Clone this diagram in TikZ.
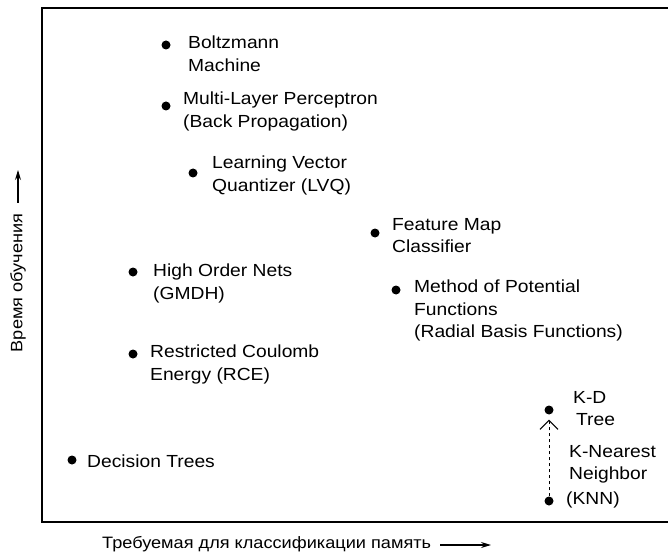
\documentclass[tikz,border=0pt]{standalone}
\usepackage{fontspec}
\setmainfont{Liberation Sans}[FakeStretch=1.1]
\usetikzlibrary{arrows.meta}
\begin{document}
\begin{tikzpicture}[x=1pt,y=-1pt,
  dot/.style={circle,fill=black,inner sep=0pt,minimum size=9pt},
  lbl/.style={anchor=north west,inner sep=0pt,align=left,font=\fontsize{17.5}{22.5}\selectfont},
  axislbl/.style={inner sep=0pt,font=\fontsize{16.5}{19}\selectfont},
  axisarrow/.style={line width=1.1pt,-{Stealth[length=10pt,width=6pt]}}]
\useasboundingbox (0,0) rectangle (668,553);
\draw[line width=1.8pt] (668,8) -- (42,8) -- (42,522) -- (668,522);
% dots
\node[dot] (d1) at (166,45) {};
\node[dot] (d2) at (166,106) {};
\node[dot] (d3) at (193,173) {};
\node[dot] (d4) at (375,233) {};
\node[dot] (d5) at (133,272) {};
\node[dot] (d6) at (396,290) {};
\node[dot] (d7) at (133,354) {};
\node[dot] (kd) at (549,410) {};
\node[dot] (knn) at (549,501) {};
\node[dot] (d10) at (72,460) {};
% labels
\node[lbl] (t1) at (188,36) {Boltzmann\\Machine};
\node[lbl] (t2) at (183,92) {Multi-Layer Perceptron\\(Back Propagation)};
\node[lbl] (t3) at (212,156) {Learning Vector\\Quantizer (LVQ)};
\node[lbl] (t4) at (392,218) {Feature Map\\Classifier};
\node[lbl] (t5) at (153,264) {High Order Nets\\(GMDH)};
\node[lbl] (t6) at (414,280) {Method of Potential\\Functions\\(Radial Basis Functions)};
\node[lbl] (t7) at (150,345) {Restricted Coulomb\\Energy (RCE)};
\node[lbl] (t8) at (573,391) {K-D\\\,Tree};
\node[lbl] (t9) at (569,445) {K-Nearest\\Neighbor};
\node[lbl] (t10) at (566,492) {(KNN)};
\node[lbl] (t11) at (87,455) {Decision Trees};
% KNN -> KD
\draw[dashed,line width=0.9pt,shorten >=5pt,-{Straight Barb[length=9pt,width=18pt,line width=1pt]}] (knn) -- (kd);
% axes labels
\node[axislbl,rotate=90] (ylab) at (18,283) {Время обучения};
\coordinate (ya) at (18,203);
\coordinate (yb) at (18,170);
\draw[axisarrow] (ya) -- (yb);
\node[axislbl,anchor=west] (xlab) at (102,544) {Требуемая для классификации память};
\coordinate (xa) at (440,545);
\coordinate (xb) at (491,545);
\draw[axisarrow] (xa) -- (xb);
\end{tikzpicture}
\end{document}
